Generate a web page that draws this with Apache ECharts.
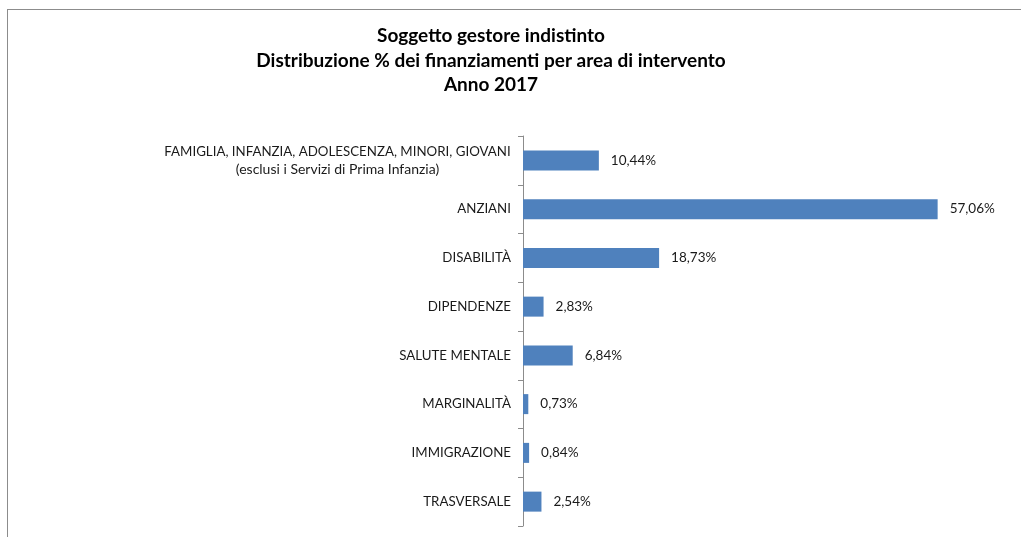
<!DOCTYPE html>
<html>
<head>
<meta charset="utf-8">
<script src="https://cdn.jsdelivr.net/npm/echarts@6/dist/echarts.min.js"></script>
<style>
  html, body { margin: 0; padding: 0; background: #fff; overflow: hidden; }
  #container { width: 1021px; height: 537px; }
  #frame { position: absolute; left: 7px; top: 9px; width: 1100px; height: 600px;
           border: 1px solid #8c8c8c; pointer-events: none; }
</style>
</head>
<body>
<div id="container"></div>
<div id="frame"></div>
<script>
// aree di intervento, dall'alto in basso
var categories = [
  'FAMIGLIA, INFANZIA, ADOLESCENZA, MINORI, GIOVANI\n(esclusi i Servizi di Prima Infanzia)',
  'ANZIANI',
  'DISABILITÀ',
  'DIPENDENZE',
  'SALUTE MENTALE',
  'MARGINALITÀ',
  'IMMIGRAZIONE',
  'TRASVERSALE'
];
var percentuali = [10.44, 57.06, 18.73, 2.83, 6.84, 0.73, 0.84, 2.54];
var titleLines = [
  'Soggetto gestore indistinto',
  'Distribuzione % dei finanziamenti per area di intervento',
  'Anno 2017'
];

var font = 'Lato, "Open Sans", sans-serif';
var labelSize = 13.3;

// larghezza della prima riga, per centrare le due righe dell'etichetta lunga
var ctx = document.createElement('canvas').getContext('2d');
ctx.font = labelSize + 'px ' + font;
var boxW = Math.ceil(ctx.measureText(categories[0].split('\n')[0]).width);

var dom = document.getElementById('container');
var myChart = echarts.init(dom);

var option = {
  backgroundColor: '#fff',
  animation: false,
  graphic: [{
    type: 'text',
    x: 491,
    y: 24,
    style: {
      text: titleLines.join('\n'),
      align: 'center',
      verticalAlign: 'top',
      font: 'bold 19px ' + font,
      lineHeight: 24.5,
      fill: '#000'
    }
  }],
  grid: { left: 523, top: 136, width: 436, height: 390 },
  xAxis: {
    type: 'value',
    min: 0,
    max: 60,
    show: false
  },
  yAxis: {
    type: 'category',
    data: categories,
    inverse: true,
    axisLine: { lineStyle: { color: '#8c8c8c', width: 1 } },
    axisTick: { show: true, length: 5, lineStyle: { color: '#8c8c8c' } },
    axisLabel: {
      color: '#1a1a1a',
      fontFamily: font,
      fontSize: labelSize,
      lineHeight: 18,
      margin: 12,
      align: 'right',
      formatter: function (v) {
        var parts = v.split('\n');
        if (parts.length === 1) return v;
        return '{a|' + parts[0] + '}\n{b|' + parts[1] + '}';
      },
      rich: {
        a: { width: boxW, align: 'center', fontFamily: font, fontSize: labelSize,
             lineHeight: 18, color: '#1a1a1a' },
        b: { width: boxW, align: 'center', fontFamily: font, fontSize: 14,
             lineHeight: 18, color: '#1a1a1a' }
      }
    },
    splitLine: { show: false }
  },
  series: [{
    type: 'bar',
    data: percentuali,
    barWidth: 20,
    itemStyle: { color: '#4f81bd' },
    label: {
      show: true,
      position: 'right',
      distance: 12,
      color: '#1a1a1a',
      fontFamily: font,
      fontSize: 13.5,
      formatter: function (p) { return p.value.toFixed(2).replace('.', ',') + '%'; }
    }
  }]
};
myChart.setOption(option);
</script>
</body>
</html>
